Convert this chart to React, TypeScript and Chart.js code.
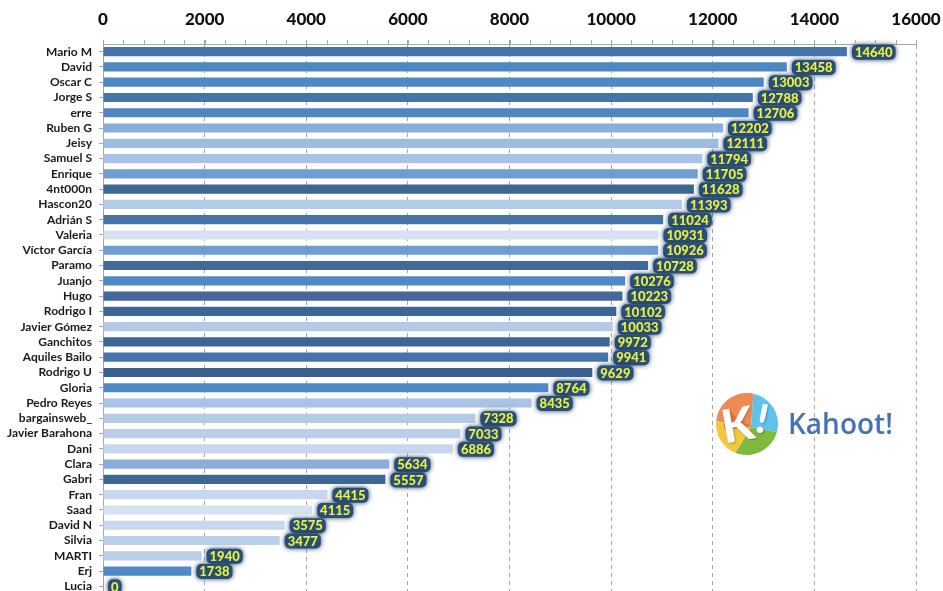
import { useEffect, useRef } from "react";
import { Chart, registerables } from "chart.js";

Chart.register(...registerables);

// Player ranking (top to bottom)
const players = [
  "Mario M", "David", "Oscar C", "Jorge S", "erre", "Ruben G", "Jeisy", "Samuel S",
  "Enrique", "4nt000n", "Hascon20", "Adrián S", "Valeria", "Víctor García", "Paramo",
  "Juanjo", "Hugo", "Rodrigo I", "Javier Gómez", "Ganchitos", "Aquiles Bailo",
  "Rodrigo U", "Gloria", "Pedro Reyes", "bargainsweb_", "Javier Barahona", "Dani",
  "Clara", "Gabri", "Fran", "Saad", "David N", "Silvia", "MARTI", "Erj", "Lucia",
];

const scores = [
  14640, 13458, 13003, 12788, 12706, 12202, 12111, 11794, 11705, 11628, 11393, 11024,
  10931, 10926, 10728, 10276, 10223, 10102, 10033, 9972, 9941, 9629, 8764, 8435,
  7328, 7033, 6886, 5634, 5557, 4415, 4115, 3575, 3477, 1940, 1738, 0,
];

const barColors = [
  "#4674a8", "#4f87c2", "#4f87c2", "#4674a8", "#4f87c2", "#8aaedb", "#9dbce2", "#a8c3e5",
  "#6e9dd2", "#3d6693", "#b4cbe7", "#4674a8", "#d6e1f1", "#6e9dd2", "#42699a", "#5189c6",
  "#42699a", "#3d6693", "#b4cbe7", "#3d6693", "#4674a8", "#3a6190", "#5189c6", "#a8c3e5",
  "#b4cbe7", "#bccfe9", "#c8d7ed", "#8aaedb", "#3d6693", "#c8d7ed", "#d6e1f1", "#c8d7ed",
  "#bccfe9", "#bccfe9", "#5189c6", "#5189c6",
];

const scoreTicks = [0, 2000, 4000, 6000, 8000, 10000, 12000, 14000, 16000];
const minorStep = 400;

const AXIS_GRAY = "#a6a6a6";

// Small tick marks between the major score ticks on the top axis
const minorTicksPlugin = {
  id: "minorTicks",
  afterDraw(chart: any) {
    const { ctx, chartArea, scales } = chart;
    const xs = scales.x;
    ctx.save();
    ctx.strokeStyle = AXIS_GRAY;
    ctx.lineWidth = 1;
    ctx.beginPath();
    for (let v = xs.min; v <= xs.max; v += minorStep) {
      const px = Math.round(xs.getPixelForValue(v)) + 0.5;
      ctx.moveTo(px, chartArea.top - 4);
      ctx.lineTo(px, chartArea.top + 1);
    }
    ctx.stroke();
    ctx.restore();
  },
};

// Yellow score labels with a dark blue halo at the end of each bar
const scoreLabelsPlugin = {
  id: "scoreLabels",
  afterDatasetsDraw(chart: any) {
    const { ctx } = chart;
    const meta = chart.getDatasetMeta(0);
    ctx.save();
    ctx.font = "900 13px Lato";
    ctx.textBaseline = "middle";
    ctx.textAlign = "left";
    meta.data.forEach((bar: any, i: number) => {
      const text = String(scores[i]);
      const x = bar.x + 8;
      const y = bar.y + 1;
      const w = ctx.measureText(text).width;
      ctx.shadowColor = "rgba(30,60,100,0.95)";
      ctx.shadowBlur = 5;
      ctx.fillStyle = "#2b4e78";
      ctx.beginPath();
      ctx.roundRect(x - 3, y - 8, w + 6, 15, 5);
      ctx.fill();
      ctx.shadowBlur = 0;
      ctx.fillStyle = "#e9f23c";
      ctx.fillText(text, x, y);
    });
    ctx.restore();
  },
};

// Kahoot! badge drawn in the lower right of the plot
const kahootBadgePlugin = {
  id: "kahootBadge",
  afterDraw(chart: any) {
    const { ctx } = chart;
    const cx = 747;
    const cy = 424;
    const r = 31;
    const hx = cx + 4;
    const hy = cy + 3;
    const deg = Math.PI / 180;
    const wedges: [number, number, string][] = [
      [185, 282, "#f08a52"],
      [282, 375, "#5ec2ec"],
      [15, 112, "#7dba3e"],
      [112, 185, "#f3c83c"],
    ];
    ctx.save();
    wedges.forEach(([a0, a1, color]) => {
      ctx.beginPath();
      ctx.moveTo(hx, hy);
      ctx.arc(cx, cy, r, a0 * deg, a1 * deg);
      ctx.closePath();
      ctx.fillStyle = color;
      ctx.fill();
    });
    // darker shading under the letter
    ctx.beginPath();
    ctx.moveTo(hx, hy);
    ctx.arc(cx, cy, r * 0.75, 165 * deg, 215 * deg);
    ctx.closePath();
    ctx.fillStyle = "rgba(225,90,50,0.55)";
    ctx.fill();

    ctx.textAlign = "center";
    ctx.textBaseline = "middle";
    ctx.fillStyle = "#ffffff";
    ctx.shadowColor = "rgba(0,0,0,0.25)";
    ctx.shadowBlur = 2;
    ctx.shadowOffsetX = 1;
    ctx.shadowOffsetY = 1;
    ctx.save();
    ctx.translate(738, 426);
    ctx.rotate(-10 * deg);
    ctx.font = "900 46px Lato";
    ctx.fillText("K", 0, 0);
    ctx.restore();
    ctx.save();
    ctx.translate(762, 420);
    ctx.rotate(12 * deg);
    ctx.font = "900 40px Lato";
    ctx.fillText("!", 0, 0);
    ctx.restore();
    ctx.shadowColor = "transparent";

    ctx.textAlign = "left";
    ctx.fillStyle = "#4673b8";
    ctx.font = '600 28px "Open Sans"';
    ctx.fillText("Kahoot!", 788, 426);
    ctx.restore();
  },
};

export default function App() {
  const canvasRef = useRef<HTMLCanvasElement | null>(null);

  useEffect(() => {
    if (!canvasRef.current) return;
    const chart = new Chart(canvasRef.current, {
      type: "bar",
      data: {
        labels: players,
        datasets: [
          {
            data: scores,
            backgroundColor: barColors,
            borderWidth: 0,
            barPercentage: 0.6,
            categoryPercentage: 1,
          },
        ],
      },
      options: {
        indexAxis: "y",
        animation: false,
        responsive: false,
        devicePixelRatio: 1,
        layout: { padding: { left: 0, right: 27, top: 0, bottom: 0 } },
        plugins: {
          legend: { display: false },
          tooltip: { enabled: false },
        },
        scales: {
          x: {
            position: "top",
            min: 0,
            max: 16000,
            afterBuildTicks: (scale: any) => {
              scale.ticks = scoreTicks.map((v) => ({ value: v }));
            },
            afterFit: (scale: any) => {
              scale.height = 44;
              scale.paddingLeft = 0;
              scale.paddingRight = 0;
            },
            ticks: {
              font: { family: "Lato", size: 17, weight: "900" },
              color: "#111111",
              padding: 10,
              maxRotation: 0,
              autoSkip: false,
              callback: (value: any) => String(value),
            },
            grid: {
              color: AXIS_GRAY,
              lineWidth: 1,
              drawTicks: true,
              tickLength: 4,
              tickColor: AXIS_GRAY,
            },
            border: { color: AXIS_GRAY, width: 1, dash: [4, 4] },
          },
          y: {
            afterFit: (scale: any) => {
              scale.width = 103;
              scale.paddingTop = 0;
              scale.paddingBottom = 0;
            },
            ticks: {
              font: { family: "Lato", size: 12, weight: "bold" },
              color: "#1a1a1a",
              padding: 7,
              autoSkip: false,
            },
            grid: {
              offset: false,
              drawOnChartArea: false,
              drawTicks: true,
              tickLength: 4,
              tickColor: AXIS_GRAY,
            },
            border: { color: AXIS_GRAY, width: 1 },
          },
        },
      },
      plugins: [minorTicksPlugin, scoreLabelsPlugin, kahootBadgePlugin],
    } as any);
    return () => chart.destroy();
  }, []);

  return (
    <div
      style={{
        position: "fixed",
        left: 0,
        top: 0,
        width: 943,
        height: 591,
        overflow: "hidden",
        background: "#ffffff",
      }}
    >
      <canvas ref={canvasRef} width={943} height={594} style={{ display: "block" }} />
    </div>
  );
}
